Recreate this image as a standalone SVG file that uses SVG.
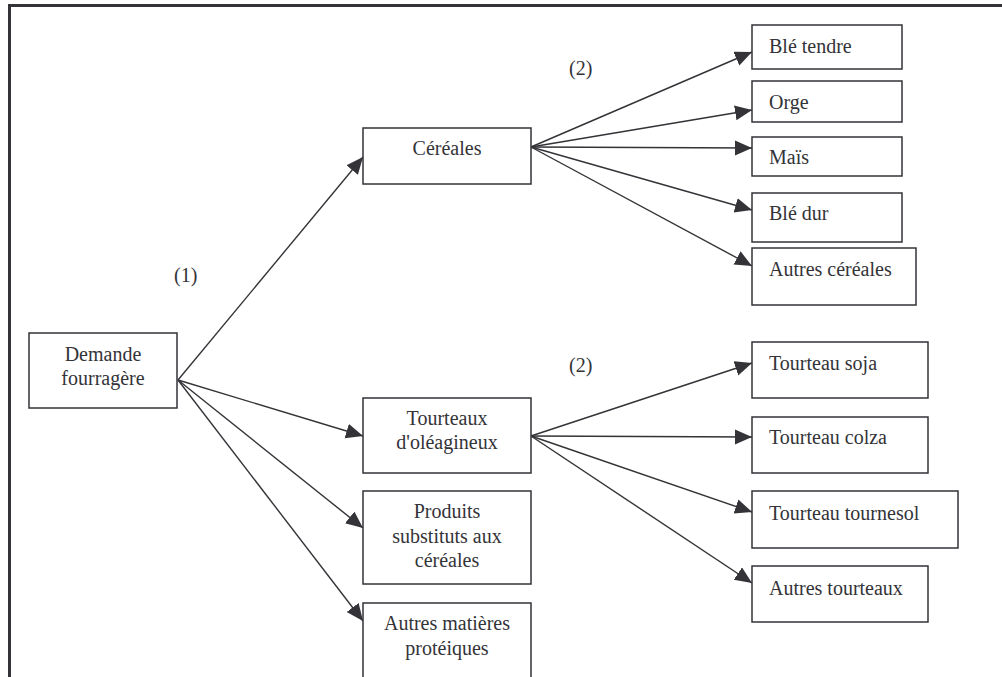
<svg xmlns="http://www.w3.org/2000/svg" width="1002" height="677" viewBox="0 0 1002 677">
<defs>
<style>
.box{fill:#fff;stroke:#333338;stroke-width:1.5}
.t{font-family:"Liberation Serif","Times New Roman",serif;font-size:20px;fill:#333338}
.c{text-anchor:middle}
.ln{stroke:#333338;stroke-width:1.4;fill:none;marker-end:url(#ah)}
.frame{stroke:#333338;stroke-width:3;fill:none}
</style>
<marker id="ah" markerUnits="userSpaceOnUse" markerWidth="18" markerHeight="16" refX="17" refY="7.5" orient="auto">
<path d="M0,0 L17,7.5 L0,15 z" fill="#333338"/>
</marker>
</defs>
<rect width="1002" height="677" fill="#fff"/>
<path class="frame" d="M9.5,677 V5.5 H1002"/>
<g id="connectors">
<line class="ln" x1="178" y1="380" x2="363" y2="157"/>
<line class="ln" x1="178" y1="380" x2="363" y2="436"/>
<line class="ln" x1="178" y1="380" x2="363" y2="528"/>
<line class="ln" x1="178" y1="380" x2="363" y2="621"/>
<line class="ln" x1="531" y1="147" x2="752" y2="52"/>
<line class="ln" x1="531" y1="147" x2="752" y2="110"/>
<line class="ln" x1="531" y1="147" x2="752" y2="148"/>
<line class="ln" x1="531" y1="147" x2="752" y2="210"/>
<line class="ln" x1="531" y1="147" x2="752" y2="266"/>
<line class="ln" x1="531" y1="436" x2="752" y2="363"/>
<line class="ln" x1="531" y1="436" x2="752" y2="437"/>
<line class="ln" x1="531" y1="436" x2="752" y2="512"/>
<line class="ln" x1="531" y1="436" x2="752" y2="583"/>
</g>
<g id="labels">
<text class="t" x="174" y="282">(1)</text>
<text class="t" x="569" y="75">(2)</text>
<text class="t" x="569" y="372">(2)</text>
</g>
<g id="demande"><rect class="box" x="29" y="333" width="148" height="75"/><text class="t c" x="103" y="361">Demande</text><text class="t c" x="103" y="385">fourragère</text></g>
<g id="cereales"><rect class="box" x="363" y="128" width="168" height="56"/><text class="t c" x="447" y="155">Céréales</text></g>
<g id="tourteaux"><rect class="box" x="363" y="398" width="168" height="75"/><text class="t c" x="447" y="425">Tourteaux</text><text class="t c" x="447" y="449">d'oléagineux</text></g>
<g id="produits"><rect class="box" x="363" y="491" width="168" height="93"/><text class="t c" x="447" y="518">Produits</text><text class="t c" x="447" y="543">substituts aux</text><text class="t c" x="447" y="567">céréales</text></g>
<g id="autresmatieres"><rect class="box" x="363" y="603" width="168" height="90"/><text class="t c" x="447" y="630">Autres matières</text><text class="t c" x="447" y="655">protéiques</text></g>
<g id="bletendre"><rect class="box" x="752" y="25" width="150" height="44"/><text class="t" x="769" y="53">Blé tendre</text></g>
<g id="orge"><rect class="box" x="752" y="81" width="150" height="41"/><text class="t" x="769" y="109">Orge</text></g>
<g id="mais"><rect class="box" x="752" y="137" width="150" height="39"/><text class="t" x="769" y="164">Maïs</text></g>
<g id="bledur"><rect class="box" x="752" y="193" width="150" height="49"/><text class="t" x="769" y="220">Blé dur</text></g>
<g id="autrescereales"><rect class="box" x="752" y="248" width="164" height="57"/><text class="t" x="769" y="276">Autres céréales</text></g>
<g id="soja"><rect class="box" x="752" y="342" width="176" height="56"/><text class="t" x="769" y="370">Tourteau soja</text></g>
<g id="colza"><rect class="box" x="752" y="417" width="176" height="56"/><text class="t" x="769" y="444">Tourteau colza</text></g>
<g id="tournesol"><rect class="box" x="752" y="491" width="206" height="57"/><text class="t" x="769" y="520">Tourteau tournesol</text></g>
<g id="autrestourteaux"><rect class="box" x="752" y="566" width="176" height="56"/><text class="t" x="769" y="595">Autres tourteaux</text></g>
</svg>
